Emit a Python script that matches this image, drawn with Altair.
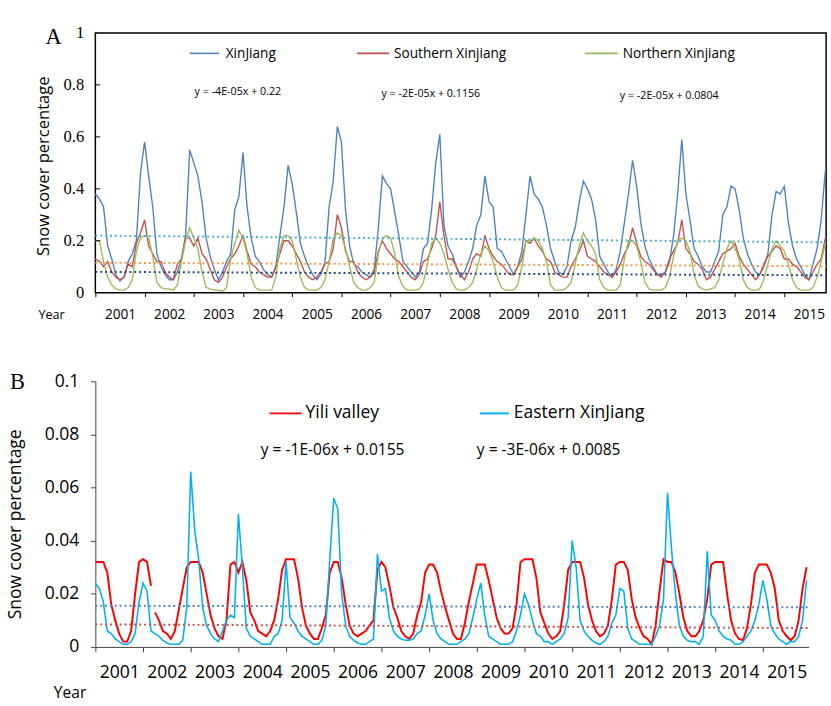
import altair as alt
import pandas as pd

# ---------------- Panel A: monthly readings (Jan..Dec), 2001 .. Nov 2015 ----------------
xinjiang = [
    0.38, 0.36, 0.33, 0.18, 0.13, 0.07, 0.045, 0.06, 0.12, 0.15, 0.20, 0.46,   # 2001
    0.58, 0.45, 0.33, 0.15, 0.10, 0.07, 0.05, 0.05, 0.08, 0.13, 0.22, 0.55,    # 2002
    0.50, 0.45, 0.35, 0.21, 0.14, 0.09, 0.05, 0.08, 0.12, 0.15, 0.32, 0.37,    # 2003
    0.54, 0.33, 0.21, 0.14, 0.12, 0.09, 0.07, 0.06, 0.10, 0.22, 0.33, 0.49,    # 2004
    0.42, 0.31, 0.19, 0.14, 0.10, 0.07, 0.05, 0.07, 0.12, 0.33, 0.43, 0.64,    # 2005
    0.58, 0.32, 0.18, 0.11, 0.10, 0.08, 0.07, 0.06, 0.09, 0.25, 0.45, 0.42,    # 2006
    0.40, 0.31, 0.22, 0.12, 0.10, 0.08, 0.06, 0.08, 0.17, 0.19, 0.32, 0.50,    # 2007
    0.61, 0.26, 0.18, 0.15, 0.10, 0.06, 0.08, 0.12, 0.17, 0.26, 0.30, 0.45,    # 2008
    0.35, 0.33, 0.17, 0.16, 0.13, 0.10, 0.07, 0.10, 0.16, 0.30, 0.45, 0.38,    # 2009
    0.36, 0.33, 0.26, 0.17, 0.12, 0.08, 0.07, 0.10, 0.20, 0.25, 0.35, 0.43,    # 2010
    0.40, 0.36, 0.28, 0.14, 0.11, 0.08, 0.06, 0.09, 0.16, 0.27, 0.38, 0.51,    # 2011
    0.41, 0.27, 0.18, 0.13, 0.10, 0.07, 0.07, 0.08, 0.12, 0.22, 0.38, 0.59,    # 2012
    0.38, 0.28, 0.17, 0.14, 0.10, 0.08, 0.08, 0.12, 0.16, 0.30, 0.33, 0.41,    # 2013
    0.40, 0.32, 0.21, 0.15, 0.11, 0.08, 0.07, 0.10, 0.15, 0.30, 0.39, 0.38,    # 2014
    0.41, 0.27, 0.18, 0.13, 0.10, 0.07, 0.05, 0.11, 0.17, 0.28, 0.47,          # 2015
]
southern = [
    0.13, 0.12, 0.10, 0.12, 0.08, 0.06, 0.05, 0.06, 0.11, 0.10, 0.19, 0.23,
    0.28, 0.18, 0.15, 0.12, 0.12, 0.08, 0.06, 0.05, 0.11, 0.13, 0.21, 0.21,
    0.18, 0.21, 0.15, 0.13, 0.09, 0.05, 0.04, 0.06, 0.10, 0.13, 0.15, 0.18,
    0.22, 0.16, 0.11, 0.10, 0.08, 0.07, 0.06, 0.06, 0.10, 0.15, 0.20, 0.20,
    0.18, 0.15, 0.12, 0.08, 0.06, 0.05, 0.06, 0.08, 0.11, 0.12, 0.17, 0.30,
    0.25, 0.16, 0.12, 0.12, 0.08, 0.06, 0.05, 0.06, 0.08, 0.16, 0.20, 0.17,
    0.15, 0.13, 0.12, 0.10, 0.08, 0.06, 0.05, 0.07, 0.12, 0.13, 0.17, 0.22,
    0.35, 0.22, 0.13, 0.13, 0.10, 0.07, 0.05, 0.08, 0.13, 0.15, 0.14, 0.22,
    0.17, 0.14, 0.12, 0.11, 0.09, 0.07, 0.07, 0.10, 0.13, 0.20, 0.19, 0.21,
    0.18, 0.16, 0.13, 0.12, 0.08, 0.07, 0.06, 0.06, 0.10, 0.13, 0.16, 0.20,
    0.14, 0.13, 0.12, 0.10, 0.08, 0.07, 0.06, 0.08, 0.11, 0.15, 0.18, 0.25,
    0.19, 0.14, 0.12, 0.11, 0.09, 0.07, 0.06, 0.08, 0.13, 0.16, 0.19, 0.28,
    0.17, 0.15, 0.12, 0.11, 0.09, 0.05, 0.06, 0.09, 0.12, 0.15, 0.16, 0.17,
    0.19, 0.14, 0.11, 0.09, 0.07, 0.05, 0.07, 0.11, 0.14, 0.16, 0.18, 0.17,
    0.13, 0.13, 0.11, 0.10, 0.08, 0.06, 0.05, 0.08, 0.11, 0.13, 0.21,
]
northern = [
    0.20, 0.20, 0.12, 0.06, 0.03, 0.015, 0.01, 0.01, 0.02, 0.05, 0.16, 0.21,
    0.22, 0.21, 0.14, 0.04, 0.02, 0.015, 0.015, 0.01, 0.03, 0.12, 0.20, 0.25,
    0.21, 0.17, 0.08, 0.02, 0.015, 0.01, 0.01, 0.005, 0.02, 0.13, 0.19, 0.24,
    0.21, 0.15, 0.06, 0.02, 0.01, 0.01, 0.01, 0.01, 0.06, 0.17, 0.22, 0.22,
    0.20, 0.13, 0.06, 0.02, 0.01, 0.01, 0.01, 0.02, 0.05, 0.12, 0.21, 0.23,
    0.22, 0.17, 0.10, 0.04, 0.02, 0.01, 0.01, 0.02, 0.04, 0.15, 0.21, 0.22,
    0.21, 0.15, 0.06, 0.025, 0.01, 0.01, 0.01, 0.015, 0.04, 0.11, 0.19, 0.21,
    0.19, 0.15, 0.09, 0.04, 0.015, 0.01, 0.01, 0.02, 0.04, 0.09, 0.15, 0.18,
    0.16, 0.12, 0.06, 0.02, 0.01, 0.01, 0.01, 0.03, 0.10, 0.20, 0.20, 0.21,
    0.20, 0.17, 0.12, 0.03, 0.01, 0.01, 0.01, 0.02, 0.04, 0.11, 0.18, 0.23,
    0.20, 0.18, 0.15, 0.05, 0.02, 0.01, 0.01, 0.01, 0.03, 0.13, 0.20, 0.20,
    0.18, 0.12, 0.04, 0.015, 0.01, 0.01, 0.01, 0.02, 0.06, 0.14, 0.20, 0.21,
    0.20, 0.16, 0.07, 0.025, 0.015, 0.01, 0.015, 0.02, 0.05, 0.11, 0.17, 0.20,
    0.17, 0.13, 0.05, 0.02, 0.01, 0.01, 0.015, 0.05, 0.11, 0.17, 0.20, 0.18,
    0.16, 0.11, 0.05, 0.02, 0.01, 0.01, 0.01, 0.02, 0.06, 0.12, 0.19,
]
names_a = ["XinJiang", "Southern Xinjiang", "Northern Xinjiang"]
colors_a = ["#4f81bd", "#c0504d", "#9bbb59"]
equations_a = ["y = -4E-05x + 0.22", "y = -2E-05x + 0.1156", "y = -2E-05x + 0.0804"]
trend_a_start = [0.22, 0.1156, 0.0804]
trend_a_end = [0.194, 0.102, 0.067]
trend_a_colors = ["#4bacc6", "#f79646", "#1f497d"]

# ---------------- Panel B: monthly readings (Jan..Dec), 2001 .. 2015 ----------------
yili = [
    0.032, 0.032, 0.032, 0.028, 0.016, 0.010, 0.005, 0.002, 0.002, 0.006, 0.020, 0.032,
    0.033, 0.032, 0.023, 0.013, 0.010, 0.006, 0.005, 0.003, 0.006, 0.014, 0.022, 0.030,
    0.032, 0.032, 0.032, 0.028, 0.020, 0.012, 0.007, 0.004, 0.003, 0.010, 0.031, 0.032,
    0.028, 0.032, 0.025, 0.013, 0.010, 0.006, 0.005, 0.004, 0.006, 0.010, 0.018, 0.029,
    0.033, 0.033, 0.033, 0.026, 0.015, 0.008, 0.005, 0.003, 0.003, 0.007, 0.012, 0.028,
    0.032, 0.032, 0.026, 0.016, 0.008, 0.005, 0.004, 0.005, 0.006, 0.008, 0.010, 0.029,
    0.032, 0.030, 0.023, 0.015, 0.011, 0.006, 0.004, 0.003, 0.005, 0.012, 0.017, 0.028,
    0.031, 0.031, 0.028, 0.021, 0.015, 0.010, 0.005, 0.003, 0.003, 0.009, 0.017, 0.024,
    0.031, 0.031, 0.031, 0.025, 0.018, 0.011, 0.007, 0.005, 0.005, 0.007, 0.016, 0.032,
    0.033, 0.033, 0.033, 0.026, 0.013, 0.009, 0.005, 0.003, 0.004, 0.006, 0.016, 0.029,
    0.032, 0.032, 0.032, 0.026, 0.016, 0.010, 0.006, 0.004, 0.005, 0.008, 0.018, 0.031,
    0.032, 0.032, 0.029, 0.018, 0.011, 0.007, 0.004, 0.003, 0.001, 0.008, 0.021, 0.033,
    0.032, 0.032, 0.028, 0.020, 0.011, 0.006, 0.004, 0.004, 0.006, 0.010, 0.018, 0.031,
    0.032, 0.032, 0.032, 0.020, 0.010, 0.005, 0.003, 0.0025, 0.007, 0.016, 0.028, 0.031,
    0.031, 0.031, 0.028, 0.022, 0.010, 0.006, 0.004, 0.0025, 0.004, 0.010, 0.022, 0.030,
]
yili_gap_after = 14   # the Yili valley line is broken after this reading (spring 2002)
eastern = [
    0.024, 0.022, 0.017, 0.006, 0.005, 0.003, 0.002, 0.001, 0.001, 0.002, 0.005, 0.017,
    0.024, 0.021, 0.006, 0.005, 0.004, 0.0025, 0.0015, 0.001, 0.001, 0.001, 0.0025, 0.015,
    0.066, 0.044, 0.033, 0.015, 0.008, 0.005, 0.003, 0.002, 0.006, 0.010, 0.012, 0.011,
    0.050, 0.030, 0.007, 0.004, 0.003, 0.002, 0.001, 0.001, 0.001, 0.004, 0.005, 0.010,
    0.032, 0.011, 0.009, 0.006, 0.004, 0.003, 0.002, 0.001, 0.001, 0.0025, 0.008, 0.033,
    0.056, 0.052, 0.020, 0.008, 0.004, 0.0025, 0.0015, 0.001, 0.001, 0.002, 0.003, 0.035,
    0.021, 0.022, 0.011, 0.006, 0.004, 0.003, 0.0025, 0.0025, 0.003, 0.005, 0.006, 0.012,
    0.020, 0.010, 0.005, 0.003, 0.002, 0.001, 0.001, 0.001, 0.002, 0.003, 0.005, 0.011,
    0.018, 0.024, 0.012, 0.004, 0.003, 0.002, 0.001, 0.001, 0.001, 0.002, 0.006, 0.012,
    0.020, 0.016, 0.010, 0.005, 0.004, 0.002, 0.002, 0.001, 0.002, 0.003, 0.005, 0.011,
    0.040, 0.030, 0.010, 0.006, 0.004, 0.0025, 0.0015, 0.001, 0.002, 0.004, 0.009, 0.012,
    0.022, 0.021, 0.007, 0.003, 0.002, 0.001, 0.001, 0.001, 0.001, 0.004, 0.008, 0.018,
    0.058, 0.037, 0.020, 0.008, 0.004, 0.0025, 0.002, 0.002, 0.001, 0.004, 0.036, 0.012,
    0.010, 0.006, 0.004, 0.003, 0.0025, 0.001, 0.001, 0.002, 0.004, 0.006, 0.010, 0.016,
    0.025, 0.018, 0.008, 0.005, 0.003, 0.002, 0.001, 0.002, 0.002, 0.004, 0.010, 0.025,
]
names_b = ["Yili valley", "Eastern XinJiang"]
colors_b = ["#ff0000", "#00b0f0"]
widths_b = [2.0, 1.6]
equations_b = ["y = -1E-06x + 0.0155", "y = -3E-06x + 0.0085"]
trend_b_start = [0.0155, 0.0085]
trend_b_end = [0.0149, 0.0071]
trend_b_colors = ["#4f81bd", "#c0504d"]

year_ticks = list(range(2001, 2016))
yticks_a = [0, 0.2, 0.4, 0.6, 0.8, 1]
yticks_b = [0, 0.02, 0.04, 0.06, 0.08, 0.1]

# ---------------- tables ----------------
def months(n):
    return [2001 + k / 12 for k in range(n)]

dfA = pd.concat([pd.DataFrame({"t": months(len(v)), "v": v, "series": n, "seg": 0})
                 for n, v in zip(names_a, [xinjiang, southern, northern])])
dfB = pd.concat([
    pd.DataFrame({"t": months(len(yili)), "v": yili, "series": names_b[0],
                  "seg": [0 if k <= yili_gap_after else 1 for k in range(len(yili))]}),
    pd.DataFrame({"t": months(len(eastern)), "v": eastern, "series": names_b[1], "seg": 0}),
])

XA_END, XB_END = 2015.85, 2015.96
trA = pd.DataFrame({"t": [2001, XA_END] * 3,
                    "v": [x for s, e in zip(trend_a_start, trend_a_end) for x in (s, e)],
                    "series": [n for n in names_a for _ in (0, 1)]})
trB = pd.DataFrame({"t": [2001, XB_END] * 2,
                    "v": [x for s, e in zip(trend_b_start, trend_b_end) for x in (s, e)],
                    "series": [n for n in names_b for _ in (0, 1)]})
one = pd.DataFrame({"a": [0]})

SANS = "Open Sans"
SERIF = "Liberation Serif"

def txt(s, x, y, size, font=SANS, align="left", baseline="middle", angle=0, color="black"):
    kw = dict(text=s, fontSize=size, font=font, align=align, baseline=baseline, color=color)
    if angle:
        kw["angle"] = angle
    return alt.Chart(one).mark_text(**kw).encode(x=alt.value(x), y=alt.value(y))

def seg(x1, x2, y, color, w=2):
    return alt.Chart(one).mark_rule(color=color, strokeWidth=w).encode(
        x=alt.value(x1), x2=alt.value(x2), y=alt.value(y))

def vbound(x, y1, y2):
    return alt.Chart(one).mark_rule(color="white", strokeWidth=1).encode(
        x=alt.value(x), y=alt.value(y1), y2=alt.value(y2))

# ---------------- Panel A ----------------
WA, HA = 751, 267
XA = alt.X("t:Q", scale=alt.Scale(domain=[2001, XA_END], nice=False, zero=False),
           axis=alt.Axis(values=year_ticks, format="d", labelOffset=WA / (XA_END - 2001) / 2,
                         ticks=True, tickSize=4, tickColor="black", domain=False, grid=False,
                         labelFont=SANS, labelFontSize=14, labelColor="black", labelPadding=11,
                         labelOverlap=False, labelFlush=False, title=None))
YA = alt.Y("v:Q", scale=alt.Scale(domain=[0, 1], nice=False),
           axis=alt.Axis(values=yticks_a, format=".1~f", ticks=False, tickSize=0, domain=False,
                         grid=False, labelFont=SERIF, labelFontSize=17, labelColor="black",
                         labelPadding=12, labelFlush=False, title=None))

baseA = alt.Chart(dfA).encode(x=XA, y=YA)
layersA = [baseA.transform_filter(alt.datum.series == n).mark_line(color=c, strokeWidth=1.4)
           for n, c in zip(names_a, colors_a)]
layersA += [alt.Chart(trA).transform_filter(alt.datum.series == n)
            .mark_line(color=c, strokeWidth=2, strokeDash=[2, 3]).encode(x=XA, y=YA)
            for n, c in zip(names_a, trend_a_colors)]
layersA.append(alt.Chart(pd.DataFrame({"v": yticks_a[1:-1]})).mark_rule(color="black")
               .encode(y=YA, x=alt.value(0), x2=alt.value(5)))
leg_a = [(97, 127, 134), (269, 302, 307), (503, 537, 542)]
for (x1, x2, xt), n, c in zip(leg_a, names_a, colors_a):
    layersA += [seg(x1, x2, 21, c, 1.6), txt(n, xt, 22, 14)]
for (x, y), e in zip([(102, 61), (294, 63), (539, 65)], equations_a):
    layersA.append(txt(e, x, y, 11))
layersA += [
    txt("A", -43, 11.5, 23, font=SERIF, align="center", baseline="alphabetic"),
    txt("Snow cover percentage", -53, 137, 17, align="center", angle=270),
    txt("Year", -45, 290, 13, align="center"),
    vbound(-77.5, -22, 307),
]
chartA = alt.layer(*layersA).properties(
    width=WA, height=HA, view=alt.ViewBackground(stroke="black", strokeWidth=1.5))

# ---------------- Panel B ----------------
WB, HB = 733, 273
XB = alt.X("t:Q", scale=alt.Scale(domain=[2001, XB_END], nice=False, zero=False),
           axis=alt.Axis(values=year_ticks, format="d", labelOffset=WB / (XB_END - 2001) / 2,
                         ticks=True, tickSize=5, tickColor="#404040", domain=True,
                         domainColor="#404040", grid=False, labelFont=SANS, labelFontSize=18,
                         labelColor="black", labelPadding=12, labelOverlap=False,
                         labelFlush=False, title=None))
YB = alt.Y("v:Q", scale=alt.Scale(domain=[0, 0.1], nice=False),
           axis=alt.Axis(values=yticks_b, format=".2~f", ticks=True, tickSize=5,
                         tickColor="#404040", domain=True, domainColor="#404040", grid=False,
                         labelFont=SANS, labelFontSize=18, labelColor="black", labelPadding=12,
                         labelFlush=False, title=None))

baseB = alt.Chart(dfB).encode(x=XB, y=YB, detail="seg:N")
layersB = [baseB.transform_filter(alt.datum.series == n).mark_line(color=c, strokeWidth=w)
           for n, c, w in zip(names_b, colors_b, widths_b)]
layersB += [alt.Chart(trB).transform_filter(alt.datum.series == n)
            .mark_line(color=c, strokeWidth=2, strokeDash=[2, 3]).encode(x=XB, y=YB)
            for n, c in zip(names_b, trend_b_colors)]
leg_b = [(179, 212, 216), (395, 425, 430)]
for (x1, x2, xt), n, c in zip(leg_b, names_b, colors_b):
    layersB += [seg(x1, x2, 33, c, 2), txt(n, xt, 33, 18)]
for (x, y), e in zip([(170, 71), (392, 71)], equations_b):
    layersB.append(txt(e, x, y, 16))
layersB += [
    txt("B", -80, 7.5, 23, font=SERIF, align="center", baseline="alphabetic"),
    txt("Snow cover percentage", -81, 147, 18, align="center", angle=270),
    txt("Year", -26, 320, 16, align="center"),
    vbound(-97.5, -48, 328),
]
chartB = alt.layer(*layersB).properties(
    width=WB, height=HB, view=alt.ViewBackground(strokeWidth=0))

chart = alt.vconcat(chartA, chartB, spacing=0).properties(padding=0).configure(font=SANS)

chart.save("out.html", embed_options={"renderer": "svg", "actions": False})
